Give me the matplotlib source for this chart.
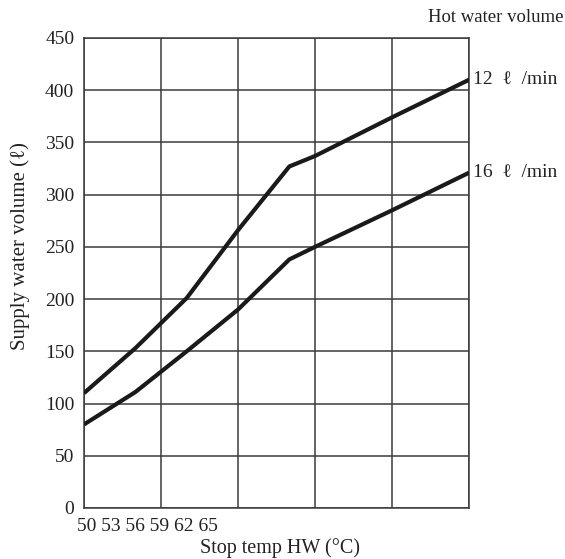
import matplotlib
matplotlib.use('Agg')
import matplotlib.pyplot as plt
import matplotlib.transforms as mtransforms

plt.rcParams['font.family'] = ['Liberation Serif', 'DejaVu Serif']

# stop temperature of hot water (°C)
temp = [50, 52, 54, 56, 58, 59, 62, 65]
# supply water volume (litres) for each hot water flow
vol_12 = [110, 153, 201, 266, 327, 337, 374, 410]
vol_16 = [80, 111, 150, 190, 238, 250, 285, 321]
x_ticks = [50, 53, 56, 59, 62, 65]
y_ticks = list(range(0, 451, 50))
series_labels = ['12  \u2113  /min', '16  \u2113  /min']

fig = plt.figure(figsize=(5.65, 5.59), dpi=100)
ax = fig.add_axes([84 / 565, 51 / 559, 385 / 565, 470 / 559])

ax.plot(temp, vol_12, color='#1a1a1a', lw=3.0, solid_capstyle='butt', zorder=3)
ax.plot(temp, vol_16, color='#1a1a1a', lw=3.0, solid_capstyle='butt', zorder=3)

ax.set_xlim(50, 65)
ax.set_ylim(0, 450)
ax.set_xticks(x_ticks)
ax.set_xticklabels([])
ax.set_yticks(y_ticks)
ax.grid(True, color='#3a3a3a', lw=1.1)
ax.tick_params(length=0, labelsize=14, pad=7, colors='#222222')
for s in ax.spines.values():
    s.set_color('#3a3a3a')
    s.set_linewidth(1.1)

# tick labels sit crammed at the left under the axis, as in the original
ax.text(-0.018, -0.04, ' '.join(str(t) for t in x_ticks), transform=ax.transAxes,
        ha='left', va='center', fontsize=14, color='#222222')
ax.text(0.508, -0.085, 'Stop temp HW (\u00b0C)', transform=ax.transAxes,
        ha='center', va='center', fontsize=14.5, color='#222222')
fig.text(20 / 565, 1 - 246 / 559, 'Supply water volume (\u2113)', rotation=90,
         ha='center', va='center', fontsize=15, color='#222222')
fig.text(564 / 565, 1 - 17 / 559, 'Hot water volume', ha='right', va='center',
         fontsize=13.5, color='#222222')

trans = mtransforms.offset_copy(ax.transData, fig=fig, x=3, y=0, units='points')
for vals, lab in zip([vol_12, vol_16], series_labels):
    ax.text(temp[-1], vals[-1], lab, transform=trans, ha='left', va='center',
            fontsize=14, color='#222222', clip_on=False)

fig.savefig('out.png', dpi=100)
